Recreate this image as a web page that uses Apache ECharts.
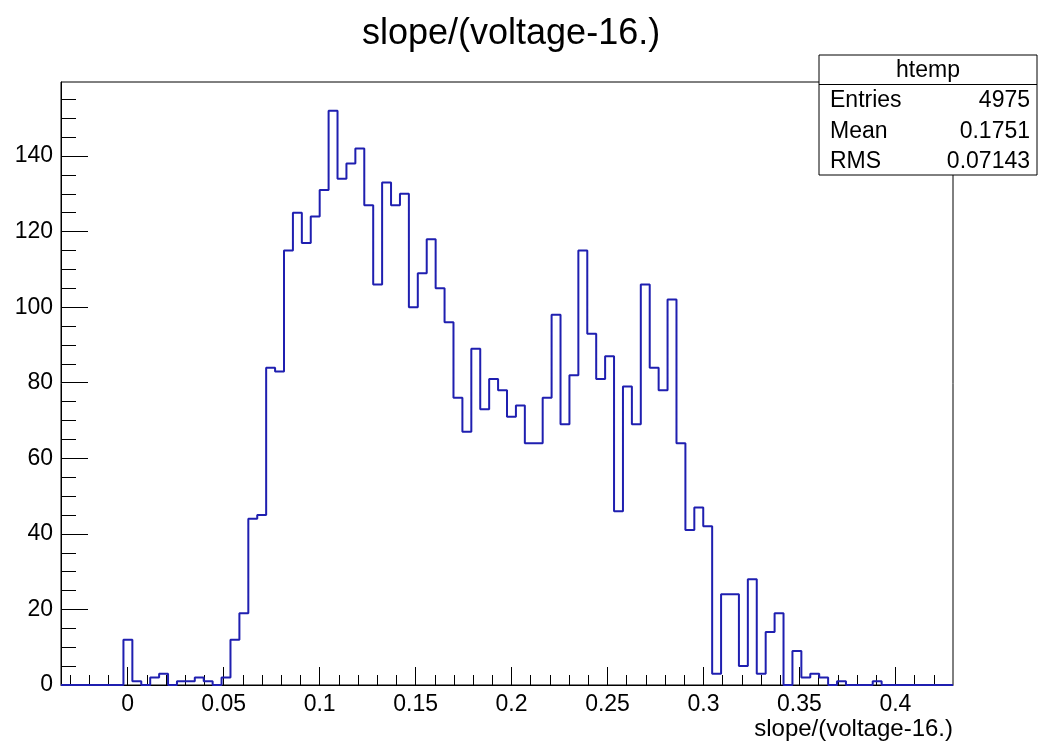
<!DOCTYPE html>
<html>
<head>
<meta charset="utf-8">
<script src="https://cdn.jsdelivr.net/npm/echarts@6/dist/echarts.min.js"></script>
<style>
html,body{margin:0;padding:0;background:#fff;}
#chart{width:1040px;height:741px;}
</style>
</head>
<body>
<div id="chart"></div>
<script>
// ---- data ----
const chartTitle = 'slope/(voltage-16.)';
const xAxisTitle = 'slope/(voltage-16.)';
const histName = 'htemp';
const nBins = 100;
const xMin = -0.03474;
const xMax = 0.4300;
const binCounts = [
  0,0,0,0,0,0,0,12,1,0,
  2,3,0,1,1,2,1,0,2,12,
  19,44,45,84,83,115,125,117,124,131,
  152,134,138,142,127,106,133,127,130,100,
  109,118,105,96,76,67,89,73,81,78,
  71,74,64,64,76,98,69,82,115,93,
  81,87,46,79,69,106,84,78,102,64,
  41,47,42,3,24,24,5,28,3,14,
  19,0,9,2,3,2,0,1,0,0,
  0,1,0,0,0,0,0,0,0,0
];
const xMajorTicks = [0, 0.05, 0.1, 0.15, 0.2, 0.25, 0.3, 0.35, 0.4];
const xMinorTicks = [-0.03,-0.02,-0.01,0.01,0.02,0.03,0.04,0.06,0.07,0.08,0.09,0.11,0.12,0.13,0.14,0.16,0.17,0.18,0.19,0.21,0.22,0.23,0.24,0.26,0.27,0.28,0.29,0.31,0.32,0.33,0.34,0.36,0.37,0.38,0.39,0.41,0.42];
const yMajorTicks = [0, 20, 40, 60, 80, 100, 120, 140];
const yMinorTicks = [5,10,15,25,30,35,45,50,55,65,70,75,85,90,95,105,110,115,125,130,135,145,150,155];
const yMax = 159.6;
const statsLabels = ['Entries', 'Mean', 'RMS'];
const statsValues = ['4975', '0.1751', '0.07143'];

// ---- build histogram outline from bins ----
const binWidth = (xMax - xMin) / nBins;
const outline = [[xMin, 0]];
binCounts.forEach((c, i) => {
  const lo = xMin + i * binWidth;
  const hi = lo + binWidth;
  outline.push([lo, c]);
  outline.push([hi, c]);
});
outline.push([xMax, 0]);

const font = '"Liberation Sans", Arial, Helvetica, sans-serif';
const chart = echarts.init(document.getElementById('chart'), null, {renderer: 'canvas'});

const GL = 61, GT = 82, GR = 953, GB = 687;

const statsGraphics = [];
const bx = 819, by = 55, bw = 218, bh = 120, hdr = 29.5, rowH = 30.5;
const statFont = '23px ' + font;
statsGraphics.push({type: 'rect', shape: {x: bx, y: by, width: bw, height: bh},
  style: {fill: '#fff', stroke: '#000', lineWidth: 1}, z: 100});
statsGraphics.push({type: 'line', shape: {x1: bx, y1: by + hdr, x2: bx + bw, y2: by + hdr},
  style: {stroke: '#000', lineWidth: 1}, z: 101});
statsGraphics.push({type: 'text', x: bx + bw / 2, y: by + hdr / 2 + 1, z: 101,
  style: {text: histName, font: statFont, fill: '#000', textAlign: 'center', textVerticalAlign: 'middle'}});
statsLabels.forEach((lab, i) => {
  const cy = by + hdr + rowH * (i + 0.5) + 1;
  statsGraphics.push({type: 'text', x: bx + 11, y: cy, z: 101,
    style: {text: lab, font: statFont, fill: '#000', textAlign: 'left', textVerticalAlign: 'middle'}});
  statsGraphics.push({type: 'text', x: bx + bw - 7, y: cy, z: 101,
    style: {text: statsValues[i], font: statFont, fill: '#000', textAlign: 'right', textVerticalAlign: 'middle'}});
});

const option = {
  animation: false,
  backgroundColor: '#fff',
  title: {
    text: chartTitle, left: 357, top: 11,
    textStyle: {fontFamily: font, fontSize: 36, fontWeight: 'normal', color: '#000'}
  },
  grid: {left: GL, top: GT, right: 1040 - GR, bottom: 741 - GB, show: true,
    borderColor: '#000', borderWidth: 1, backgroundColor: '#fff'},
  xAxis: [{
    type: 'value', min: xMin, max: xMax, position: 'bottom',
    name: xAxisTitle, nameLocation: 'end', nameGap: 0,
    nameTextStyle: {fontFamily: font, fontSize: 24, color: '#000', align: 'right', verticalAlign: 'top', padding: [32, 0, 0, 0]},
    splitLine: {show: false},
    axisLine: {show: true, onZero: false, lineStyle: {color: '#000', width: 1}},
    axisTick: {show: true, inside: true, length: 18, customValues: xMajorTicks, lineStyle: {color: '#000', width: 1}},
    axisLabel: {show: true, customValues: xMajorTicks, margin: 8, fontFamily: font, fontSize: 23, color: '#000',
      formatter: v => String(Math.round(v * 100) / 100)}
  }, {
    type: 'value', min: xMin, max: xMax, position: 'bottom',
    splitLine: {show: false},
    axisLine: {show: false, onZero: false},
    axisTick: {show: true, inside: true, length: 10, customValues: xMinorTicks, lineStyle: {color: '#000', width: 1}},
    axisLabel: {show: false}
  }],
  yAxis: [{
    type: 'value', min: 0, max: yMax, position: 'left',
    splitLine: {show: false},
    axisLine: {show: true, onZero: false, lineStyle: {color: '#000', width: 1}},
    axisTick: {show: true, inside: true, length: 27, customValues: yMajorTicks, lineStyle: {color: '#000', width: 1}},
    axisLabel: {show: true, customValues: yMajorTicks, margin: 8, fontFamily: font, fontSize: 23, color: '#000'}
  }, {
    type: 'value', min: 0, max: yMax, position: 'left',
    splitLine: {show: false},
    axisLine: {show: false, onZero: false},
    axisTick: {show: true, inside: true, length: 15, customValues: yMinorTicks, lineStyle: {color: '#000', width: 1}},
    axisLabel: {show: false}
  }],
  series: [{
    type: 'line', xAxisIndex: 0, yAxisIndex: 0,
    data: outline, showSymbol: false, symbol: 'none',
    lineStyle: {color: '#1f1fb0', width: 2}, clip: true, z: 5
  }],
  graphic: statsGraphics
};
chart.setOption(option);
</script>
</body>
</html>
